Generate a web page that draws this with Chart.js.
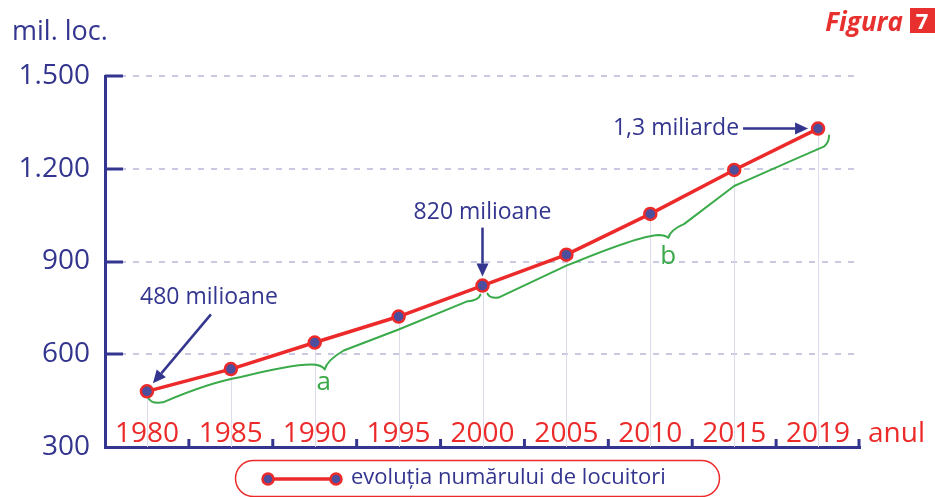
<!DOCTYPE html>
<html>
<head>
<meta charset="utf-8">
<script src="https://cdn.jsdelivr.net/npm/chart.js@4/dist/chart.umd.min.js"></script>
<style>
  body { margin: 0; background: #fff; }
  #wrap { width: 935px; height: 497px; position: relative; }
</style>
</head>
<body>
<div id="wrap"><canvas id="popChart"></canvas></div>
<script>
const years = ["1980", "1985", "1990", "1995", "2000", "2005", "2010", "2015", "2019"];
const population = [480, 552, 638, 722, 822, 922, 1054, 1196, 1330];
const yTicks = [300, 600, 900, 1200, 1500];
const seriesLabel = "evoluția numărului de locuitori";

const BLUE = "#33358f";
const RED = "#ec2a2a";
const GREEN = "#3aaa4a";
const FONT = "'Open Sans', 'Noto Sans', sans-serif";

function fmtThousands(v) {
  if (v < 1000) return String(v);
  return Math.floor(v / 1000) + "." + String(v % 1000).padStart(3, "0");
}

function arrow(ctx, x1, y1, x2, y2) {
  const ang = Math.atan2(y2 - y1, x2 - x1);
  const hl = 13, hw = 6;
  const bx = x2 - hl * Math.cos(ang), by = y2 - hl * Math.sin(ang);
  ctx.beginPath();
  ctx.moveTo(x1, y1);
  ctx.lineTo(bx, by);
  ctx.stroke();
  ctx.beginPath();
  ctx.moveTo(x2, y2);
  ctx.lineTo(bx + hw * Math.sin(ang), by - hw * Math.cos(ang));
  ctx.lineTo(bx - hw * Math.sin(ang), by + hw * Math.cos(ang));
  ctx.closePath();
  ctx.fill();
}

function marker(ctx, x, y) {
  ctx.beginPath();
  ctx.arc(x, y, 5.5, 0, Math.PI * 2);
  ctx.fillStyle = "#4b4f9e";
  ctx.fill();
  ctx.lineWidth = 2.5;
  ctx.strokeStyle = RED;
  ctx.stroke();
}

const decor = {
  id: "decor",
  beforeDatasetsDraw(chart) {
    const { ctx, chartArea: a } = chart;
    const P = chart.getDatasetMeta(0).data;
    ctx.save();
    // drop lines from points to the axis
    ctx.strokeStyle = "#dcdcec";
    ctx.lineWidth = 1;
    P.forEach(p => {
      const x = Math.round(p.x) + 0.5;
      ctx.beginPath();
      ctx.moveTo(x, p.y);
      ctx.lineTo(x, a.bottom);
      ctx.stroke();
    });

    // green braces a and b
    ctx.strokeStyle = GREEN;
    ctx.lineWidth = 2;
    ctx.lineJoin = "round";
    ctx.lineCap = "round";
    ctx.beginPath();
    ctx.moveTo(P[0].x + 1, P[0].y + 6);
    ctx.quadraticCurveTo(P[0].x + 4, P[0].y + 13, P[0].x + 16, P[0].y + 11);
    ctx.quadraticCurveTo(P[1].x - 20, P[1].y + 13, P[1].x + 10, P[1].y + 8);
    ctx.quadraticCurveTo(P[2].x - 24, P[2].y + 22, P[2].x - 4, P[2].y + 22);
    ctx.quadraticCurveTo(P[2].x + 7, P[2].y + 22, P[2].x + 10, P[2].y + 27);
    ctx.quadraticCurveTo(P[2].x + 12, P[2].y + 18, P[2].x + 29, P[2].y + 8);
    ctx.lineTo(P[3].x, P[3].y + 13);
    ctx.lineTo(P[4].x - 16, P[4].y + 16);
    ctx.quadraticCurveTo(P[4].x - 4, P[4].y + 15, P[4].x - 2, P[4].y + 9);
    ctx.stroke();

    ctx.beginPath();
    ctx.moveTo(P[4].x + 5, P[4].y + 8);
    ctx.quadraticCurveTo(P[4].x + 7, P[4].y + 13, P[4].x + 16, P[4].y + 12);
    ctx.lineTo(P[5].x, P[5].y + 11);
    ctx.quadraticCurveTo(P[6].x - 12, P[6].y + 22, P[6].x + 8, P[6].y + 21);
    ctx.quadraticCurveTo(P[6].x + 15, P[6].y + 21, P[6].x + 18, P[6].y + 24);
    ctx.quadraticCurveTo(P[6].x + 20, P[6].y + 16, P[6].x + 34, P[6].y + 10);
    ctx.lineTo(P[7].x, P[7].y + 16);
    ctx.quadraticCurveTo(P[8].x - 4, P[8].y + 22, P[8].x + 6, P[8].y + 18);
    ctx.quadraticCurveTo(P[8].x + 11, P[8].y + 14, P[8].x + 11, P[8].y + 7);
    ctx.stroke();

    ctx.fillStyle = GREEN;
    ctx.font = "26px " + FONT;
    ctx.textAlign = "center";
    ctx.textBaseline = "middle";
    ctx.fillText("a", P[2].x + 9, P[2].y + 40);
    ctx.fillText("b", P[6].x + 18, P[6].y + 43);
    ctx.restore();
  },
  afterDraw(chart) {
    const { ctx, chartArea: a, scales: { x, y } } = chart;
    const P = chart.getDatasetMeta(0).data;
    ctx.save();

    // y ticks pointing inwards
    ctx.strokeStyle = BLUE;
    ctx.lineWidth = 3;
    yTicks.slice(1).forEach(v => {
      const py = Math.round(y.getPixelForValue(v));
      ctx.beginPath();
      ctx.moveTo(a.left, py);
      ctx.lineTo(a.left + 18, py);
      ctx.stroke();
    });

    // x ticks between categories, pointing up
    const marks = [];
    for (let i = 0; i < years.length - 1; i++) {
      marks.push((x.getPixelForValue(i) + x.getPixelForValue(i + 1)) / 2);
    }
    marks.push(a.right - 1);
    marks.forEach(mx => {
      ctx.beginPath();
      ctx.moveTo(mx, a.bottom);
      ctx.lineTo(mx, a.bottom - 8);
      ctx.stroke();
    });

    // category labels sitting above the axis
    ctx.fillStyle = RED;
    ctx.font = "28px " + FONT;
    ctx.textBaseline = "alphabetic";
    ctx.textAlign = "center";
    years.forEach((yr, i) => ctx.fillText(yr, x.getPixelForValue(i), a.bottom - 5));
    ctx.textAlign = "left";
    ctx.fillText("anul", a.right + 8, a.bottom - 5);

    // axis title
    ctx.fillStyle = BLUE;
    ctx.font = "27px " + FONT;
    ctx.fillText("mil. loc.", 12, 40);

    // Figura 7
    ctx.fillStyle = "#e8312f";
    ctx.font = "italic bold 26px " + FONT;
    ctx.textAlign = "right";
    ctx.fillText("Figura", 903, 31);
    ctx.fillRect(910, 8, 25, 25);
    ctx.fillStyle = "#fff";
    ctx.font = "bold 22px " + FONT;
    ctx.textAlign = "center";
    ctx.fillText("7", 922, 29);

    // annotations
    ctx.fillStyle = BLUE;
    ctx.strokeStyle = BLUE;
    ctx.lineWidth = 2.5;
    ctx.font = "23px " + FONT;
    ctx.textBaseline = "middle";
    ctx.textAlign = "center";
    ctx.fillText("480 milioane", P[0].x + 62, P[0].y - 94);
    arrow(ctx, P[0].x + 64, P[0].y - 77, P[0].x + 6, P[0].y - 8);
    ctx.fillText("820 milioane", P[4].x, P[4].y - 73);
    arrow(ctx, P[4].x, P[4].y - 58, P[4].x, P[4].y - 9);
    ctx.textAlign = "right";
    ctx.fillText("1,3 miliarde", P[8].x - 79, P[8].y);
    arrow(ctx, P[8].x - 75, P[8].y, P[8].x - 10, P[8].y);

    // legend pill
    ctx.strokeStyle = RED;
    ctx.lineWidth = 1.5;
    ctx.beginPath();
    ctx.roundRect(235.5, 460.5, 484, 36, 18);
    ctx.stroke();
    ctx.lineWidth = 3.5;
    ctx.beginPath();
    ctx.moveTo(268, 479);
    ctx.lineTo(336, 479);
    ctx.stroke();
    marker(ctx, 268, 479);
    marker(ctx, 336, 479);
    ctx.fillStyle = BLUE;
    ctx.font = "22px " + FONT;
    ctx.textAlign = "left";
    ctx.textBaseline = "middle";
    ctx.fillText(seriesLabel, 351, 478);
    ctx.restore();
  }
};

new Chart(document.getElementById("popChart"), {
  type: "line",
  data: {
    labels: years,
    datasets: [{
      label: seriesLabel,
      data: population,
      borderColor: RED,
      borderWidth: 3.5,
      pointRadius: 6,
      pointBackgroundColor: "#4b4f9e",
      pointBorderColor: RED,
      pointBorderWidth: 2.5,
      tension: 0,
      clip: false
    }]
  },
  options: {
    responsive: true,
    maintainAspectRatio: false,
    animation: false,
    layout: { padding: { left: 0, right: 75, top: 76, bottom: 50 } },
    plugins: { legend: { display: false }, tooltip: { enabled: false } },
    scales: {
      x: {
        type: "category",
        offset: true,
        grid: { display: false, drawTicks: false },
        ticks: { display: false },
        border: { color: BLUE, width: 3 },
        afterFit: s => { s.height = 0; }
      },
      y: {
        min: 300,
        max: 1500,
        afterBuildTicks: s => { s.ticks = yTicks.map(v => ({ value: v })); },
        ticks: {
          color: BLUE,
          padding: 15,
          font: { family: FONT, size: 28 },
          callback: v => fmtThousands(v)
        },
        grid: {
          drawTicks: false,
          lineWidth: 2,
          color: c => (c.tick && c.tick.value === 300) ? "rgba(0,0,0,0)" : "#c9c9e3"
        },
        border: { color: BLUE, width: 3, dash: [6, 7], dashOffset: 0 },
        afterFit: s => { s.width = 105; }
      }
    }
  },
  plugins: [decor]
});
</script>
</body>
</html>
